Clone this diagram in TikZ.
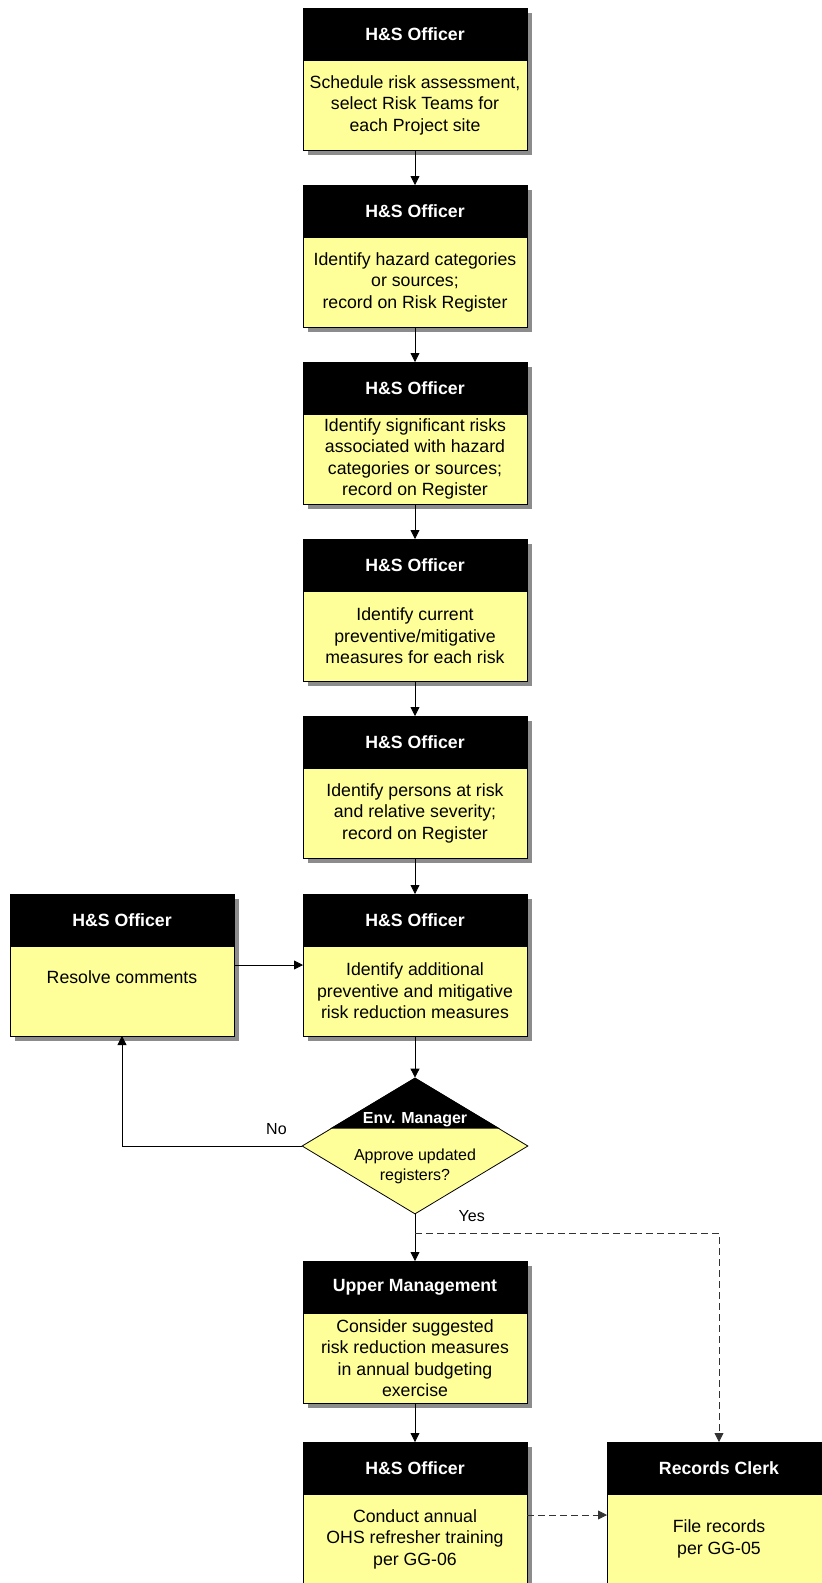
\documentclass[tikz,border=0pt]{standalone}
\usepackage{fontspec}
\setmainfont{Liberation Sans}
\usetikzlibrary{arrows.meta,positioning,shadows,shapes.geometric}
\definecolor{taskyellow}{HTML}{FFFF99}
\definecolor{shadowgray}{HTML}{8C8C8C}
\tikzstyle{boxshadow} = [drop shadow={shadow xshift=5pt, shadow yshift=-5pt,
  fill=shadowgray, opacity=1}]
\tikzstyle{role} = [draw, fill=black, text=white, line width=0.8pt,
  font=\fontsize{17.7}{21.5}\selectfont\bfseries, minimum width=224pt,
  minimum height=52pt, inner sep=2pt, outer sep=0pt, boxshadow]
\tikzstyle{task} = [draw, fill=taskyellow, line width=0.8pt,
  font=\fontsize{17.7}{21.5}\selectfont, minimum width=224pt,
  minimum height=90pt, inner sep=2pt, outer sep=0pt, align=center, boxshadow]
\tikzstyle{decision} = [draw, diamond, fill=taskyellow, line width=0.8pt,
  minimum width=226pt, minimum height=136pt, inner sep=0pt]
\tikzstyle{answer} = [font=\fontsize{16}{20}\selectfont, align=center]
\tikzstyle{arrow} = [line width=0.8pt, -{Triangle[length=9pt,width=9pt]}]
\tikzstyle{dasharrow} = [arrow, draw=black!80, dash pattern=on 7pt off 4pt]

\begin{document}
\begin{tikzpicture}[x=1pt, y=-1pt]
    \useasboundingbox (0,0) rectangle (822,1583);
    % main column
    \node[role] (h1) at (415,34) {H\&S Officer};
    \node[task, below=0pt of h1] (b1)
        {Schedule risk assessment,\\select Risk Teams for\\each Project site};
    \node[role] (h2) at (415,211) {H\&S Officer};
    \node[task, below=0pt of h2] (b2)
        {Identify hazard categories\\or sources;\\record on Risk Register};
    \node[role] (h3) at (415,388) {H\&S Officer};
    \node[task, below=0pt of h3] (b3)
        {Identify significant risks\\associated with hazard\\categories or sources;\\record on Register};
    \node[role] (h4) at (415,565) {H\&S Officer};
    \node[task, below=0pt of h4] (b4)
        {Identify current\\preventive/mitigative\\measures for each risk};
    \node[role] (h5) at (415,742) {H\&S Officer};
    \node[task, below=0pt of h5] (b5)
        {Identify persons at risk\\and relative severity;\\record on Register};
    \node[role] (h6) at (415,920) {H\&S Officer};
    \node[task, below=0pt of h6] (b6)
        {Identify additional\\preventive and mitigative\\risk reduction measures};
    \node[role] (hr) at (122,920) {H\&S Officer};
    \node[task, below=0pt of hr] (br) {Resolve comments\\\strut};

    % decision
    \node[decision] (approve) at (415,1146) {};
    \fill (approve.north) -- ++(-85,51) -- ++(170,0) -- cycle;
    \node[answer, text=white, font=\fontsize{16}{20}\selectfont\bfseries]
        (envmgr) at (415,1120) {Env. Manager};
    \node[answer] (question) at (415,1166) {Approve updated\\registers?};

    \node[role] (hu) at (415,1287) {Upper Management};
    \node[task, below=0pt of hu] (bu)
        {Consider suggested\\risk reduction measures\\in annual budgeting\\exercise};
    \node[role] (h7) at (415,1468) {H\&S Officer};
    \node[task, below=0pt of h7] (b7)
        {Conduct annual\\OHS refresher training\\per GG-06};
    \node[role] (hc) at (719,1468) {Records Clerk};
    \node[task, below=0pt of hc] (bc) {File records\\per GG-05};

    \coordinate (yesfork) at (415,1233);

    \draw[arrow] (b1) -- (h2);
    \draw[arrow] (b2) -- (h3);
    \draw[arrow] (b3) -- (h4);
    \draw[arrow] (b4) -- (h5);
    \draw[arrow] (b5) -- (h6);
    \draw[arrow] ([yshift=26pt]br.east) -- ([yshift=26pt]b6.west);
    \draw[arrow] (b6) -- (approve);
    \draw[arrow] (approve.west) -| node[answer, pos=0.07, above=8pt] {No} (br);
    \draw[arrow] (approve) -- node[answer, pos=0.04, right=40pt] {Yes} (hu);
    \draw[dasharrow] (yesfork) -| (hc);
    \draw[arrow] (bu) -- (h7);
    \draw[dasharrow] ([yshift=24pt]b7.east) -- ([yshift=24pt]bc.west);
\end{tikzpicture}
\end{document}
